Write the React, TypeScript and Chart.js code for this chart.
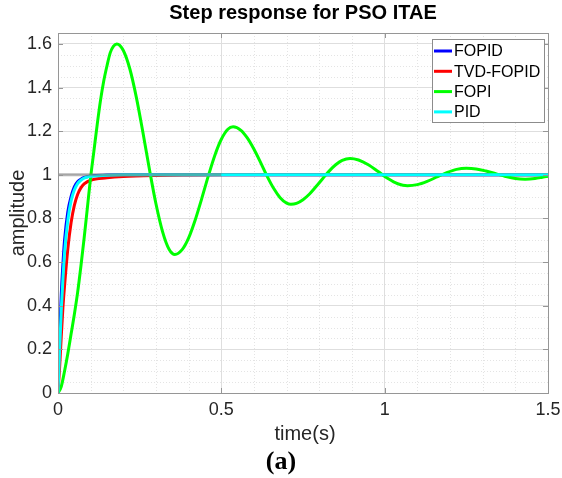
import React, { useEffect, useRef } from 'react';
import { Chart, registerables } from 'chart.js';

Chart.register(...registerables);

const titleText = 'Step response for PSO ITAE';
const xLabel = 'time(s)';
const yLabel = 'amplitude';
const captionText = '(a)';

const xTicks = [0, 0.5, 1, 1.5];
const yTicks = [0, 0.2, 0.4, 0.6, 0.8, 1, 1.2, 1.4, 1.6];
const xMinor = [0.1, 0.2, 0.3, 0.4, 0.6, 0.7, 0.8, 0.9, 1.1, 1.2, 1.3, 1.4];
const yMinor = [0.05, 0.1, 0.15, 0.25, 0.3, 0.35, 0.45, 0.5, 0.55, 0.65, 0.7, 0.75, 0.85, 0.9, 0.95, 1.05, 1.1, 1.15, 1.25, 1.3, 1.35, 1.45, 1.5, 1.55, 1.65];

const seriesLabels = ['FOPID', 'TVD-FOPID', 'FOPI', 'PID'];
const seriesColors = ['#0000ff', '#ff0000', '#00ff00', '#00ffff'];

const fopidT = [0, 0.005, 0.01, 0.015, 0.02, 0.03, 0.04, 0.05, 0.06, 0.07, 0.08, 0.1, 0.15, 0.2, 0.5, 1.0, 1.5];
const fopidY = [0, 0.25, 0.45, 0.59, 0.70, 0.83, 0.90, 0.945, 0.968, 0.98, 0.988, 0.995, 0.999, 1.0, 1.0, 1.0, 1.0];

const tvdT = [0, 0.005, 0.01, 0.015, 0.02, 0.03, 0.04, 0.05, 0.06, 0.07, 0.08, 0.1, 0.15, 0.2, 0.3, 0.4, 0.5, 1.0, 1.5];
const tvdY = [0, 0.12, 0.26, 0.39, 0.49, 0.66, 0.78, 0.86, 0.91, 0.94, 0.958, 0.975, 0.986, 0.992, 0.997, 0.999, 1.0, 1.0, 1.0];

const fopiT = [0, 0.01, 0.02, 0.03, 0.04, 0.05, 0.06, 0.07, 0.08, 0.09, 0.1, 0.11, 0.12, 0.13, 0.14, 0.15, 0.16, 0.17, 0.18,
  0.2, 0.22, 0.24, 0.26, 0.28, 0.3, 0.32, 0.34, 0.358,
  0.38, 0.4, 0.42, 0.44, 0.46, 0.48, 0.5, 0.52, 0.536,
  0.56, 0.58, 0.6, 0.62, 0.64, 0.66, 0.68, 0.7, 0.713,
  0.73, 0.75, 0.77, 0.79, 0.81, 0.83, 0.85, 0.87, 0.894,
  0.92, 0.95, 0.98, 1.01, 1.04, 1.07,
  1.1, 1.13, 1.16, 1.19, 1.22, 1.25,
  1.28, 1.31, 1.34, 1.37, 1.4, 1.43, 1.46, 1.48, 1.5];
const fopiY = [0, 0.03, 0.1, 0.18, 0.27, 0.36, 0.46, 0.58, 0.71, 0.85, 0.99, 1.11, 1.23, 1.34, 1.43, 1.5, 1.56, 1.59, 1.6,
  1.57, 1.485, 1.354, 1.194, 1.024, 0.866, 0.74, 0.659, 0.635,
  0.657, 0.711, 0.793, 0.891, 0.994, 1.089, 1.163, 1.209, 1.22,
  1.204, 1.168, 1.117, 1.057, 0.994, 0.938, 0.895, 0.87, 0.865,
  0.869, 0.886, 0.912, 0.946, 0.982, 1.017, 1.046, 1.066, 1.075,
  1.068, 1.046, 1.015, 0.983, 0.959, 0.95,
  0.955, 0.97, 0.99, 1.01, 1.025, 1.03,
  1.027, 1.0175, 1.005, 0.9925, 0.983, 0.98, 0.983, 0.988, 0.994];

const pidT = [0, 0.005, 0.01, 0.015, 0.02, 0.03, 0.04, 0.05, 0.06, 0.07, 0.08, 0.1, 0.15, 0.2, 0.5, 1.0, 1.5];
const pidY = [0, 0.2, 0.38, 0.52, 0.64, 0.79, 0.88, 0.93, 0.96, 0.975, 0.985, 0.993, 0.998, 1.0, 1.0, 1.0, 1.0];

const refT = [0, 0.5];
const refY = [1, 1];

const zip = (t: number[], y: number[]) => t.map((v, i) => ({ x: v, y: y[i] }));

const FONT = "'Liberation Sans', Arial, sans-serif";
const TEXT = '#262626';

const decor = {
  id: 'decor',
  beforeDatasetsDraw(chart: any) {
    const { ctx, chartArea: a, scales } = chart;
    const x = scales.x, y = scales.y;
    ctx.save();
    ctx.lineWidth = 1;
    ctx.strokeStyle = '#e4e4e4';
    ctx.setLineDash([1, 2]);
    for (const v of xMinor) {
      const px = Math.round(x.getPixelForValue(v)) + 0.5;
      ctx.beginPath(); ctx.moveTo(px, a.top); ctx.lineTo(px, a.bottom); ctx.stroke();
    }
    for (const v of yMinor) {
      const py = Math.round(y.getPixelForValue(v)) + 0.5;
      ctx.beginPath(); ctx.moveTo(a.left, py); ctx.lineTo(a.right, py); ctx.stroke();
    }
    ctx.restore();
  },
  afterDraw(chart: any) {
    const { ctx, chartArea: a, scales } = chart;
    const x = scales.x, y = scales.y;
    ctx.save();
    ctx.strokeStyle = '#969696';
    ctx.lineWidth = 1;
    ctx.setLineDash([]);
    ctx.strokeRect(Math.round(a.left) + 0.5, Math.round(a.top) + 0.5, Math.round(a.right - a.left), Math.round(a.bottom - a.top));
    ctx.beginPath();
    for (const v of xTicks) {
      const px = Math.round(x.getPixelForValue(v)) + 0.5;
      ctx.moveTo(px, a.bottom); ctx.lineTo(px, a.bottom - 5);
      ctx.moveTo(px, a.top); ctx.lineTo(px, a.top + 5);
    }
    for (const v of yTicks) {
      const py = Math.round(y.getPixelForValue(v)) + 0.5;
      ctx.moveTo(a.left, py); ctx.lineTo(a.left + 5, py);
      ctx.moveTo(a.right, py); ctx.lineTo(a.right - 5, py);
    }
    ctx.stroke();

    // legend
    const lx = 432, ly = 39, lw = 112, lh = 83;
    ctx.fillStyle = '#ffffff';
    ctx.fillRect(lx, ly, lw, lh);
    ctx.strokeStyle = '#8c8c8c';
    ctx.strokeRect(lx + 0.5, ly + 0.5, lw, lh);
    ctx.font = `16px ${FONT}`;
    ctx.textBaseline = 'middle';
    ctx.textAlign = 'left';
    seriesLabels.forEach((lab, i) => {
      const cy = 51 + i * 20.3;
      ctx.strokeStyle = seriesColors[i];
      ctx.lineWidth = 3;
      ctx.beginPath(); ctx.moveTo(434, cy); ctx.lineTo(452, cy); ctx.stroke();
      ctx.fillStyle = '#000000';
      ctx.fillText(lab, 454, cy + 1);
    });

    const cx = (a.left + a.right) / 2;
    ctx.fillStyle = '#000000';
    ctx.font = `bold 20px ${FONT}`;
    ctx.textAlign = 'center';
    ctx.textBaseline = 'middle';
    ctx.fillText(titleText, cx, 13);
    ctx.fillStyle = TEXT;
    ctx.font = `20px ${FONT}`;
    ctx.fillText(xLabel, cx + 2, 434);
    ctx.save();
    ctx.translate(18, (a.top + a.bottom) / 2);
    ctx.rotate(-Math.PI / 2);
    ctx.fillText(yLabel, 0, 0);
    ctx.restore();
    ctx.fillStyle = '#000000';
    ctx.font = `bold 26px 'Liberation Serif', 'Times New Roman', serif`;
    ctx.fillText(captionText, cx - 22, 462);
    ctx.restore();
  },
};

export default function App() {
  const ref = useRef<HTMLCanvasElement | null>(null);
  useEffect(() => {
    if (!ref.current) return;
    const mk = (label: string, t: number[], yv: number[], color: string, order: number) => ({
      label,
      data: zip(t, yv),
      borderColor: color,
      backgroundColor: color,
      borderWidth: 3,
      pointRadius: 0,
      fill: false,
      cubicInterpolationMode: 'monotone' as const,
      order,
    });
    const chart = new Chart(ref.current, {
      type: 'line',
      data: {
        datasets: [
          mk(seriesLabels[0], fopidT, fopidY, seriesColors[0], 4),
          mk(seriesLabels[1], tvdT, tvdY, seriesColors[1], 3),
          mk(seriesLabels[2], fopiT, fopiY, seriesColors[2], 2),
          mk(seriesLabels[3], pidT, pidY, seriesColors[3], 1),
          { ...mk('', refT, refY, 'rgba(120,120,120,0.55)', 0), cubicInterpolationMode: 'default' as const },
        ],
      },
      options: {
        animation: false,
        responsive: false,
        layout: { padding: { left: 0, right: 14, top: 33, bottom: 0 } },
        plugins: { legend: { display: false }, title: { display: false }, tooltip: { enabled: false } },
        scales: {
          x: {
            type: 'linear',
            min: 0,
            max: 1.5,
            afterBuildTicks: (s: any) => { s.ticks = xTicks.map((v) => ({ value: v })); },
            afterFit: (s: any) => { s.height = 85; s.paddingLeft = 0; s.paddingRight = 0; },
            ticks: { font: { family: FONT, size: 18 }, color: TEXT, padding: 6, maxRotation: 0, autoSkip: false, callback: (v: any) => String(v) },
            grid: { color: '#dedede', drawTicks: false, lineWidth: 1 },
            border: { display: false },
          },
          y: {
            type: 'linear',
            min: 0,
            max: 1.65,
            afterBuildTicks: (s: any) => { s.ticks = yTicks.map((v) => ({ value: v })); },
            afterFit: (s: any) => { s.width = 58; s.paddingTop = 0; s.paddingBottom = 0; },
            ticks: { font: { family: FONT, size: 18 }, color: TEXT, padding: 6, autoSkip: false, callback: (v: any) => String(v) },
            grid: { color: '#dedede', drawTicks: false, lineWidth: 1 },
            border: { display: false },
          },
        },
      },
      plugins: [decor],
    });
    return () => chart.destroy();
  }, []);
  return (
    <div style={{ position: 'absolute', left: 0, top: 0, width: 562, height: 478, background: '#ffffff' }}>
      <canvas ref={ref} width={562} height={478} style={{ display: 'block' }} />
    </div>
  );
}
